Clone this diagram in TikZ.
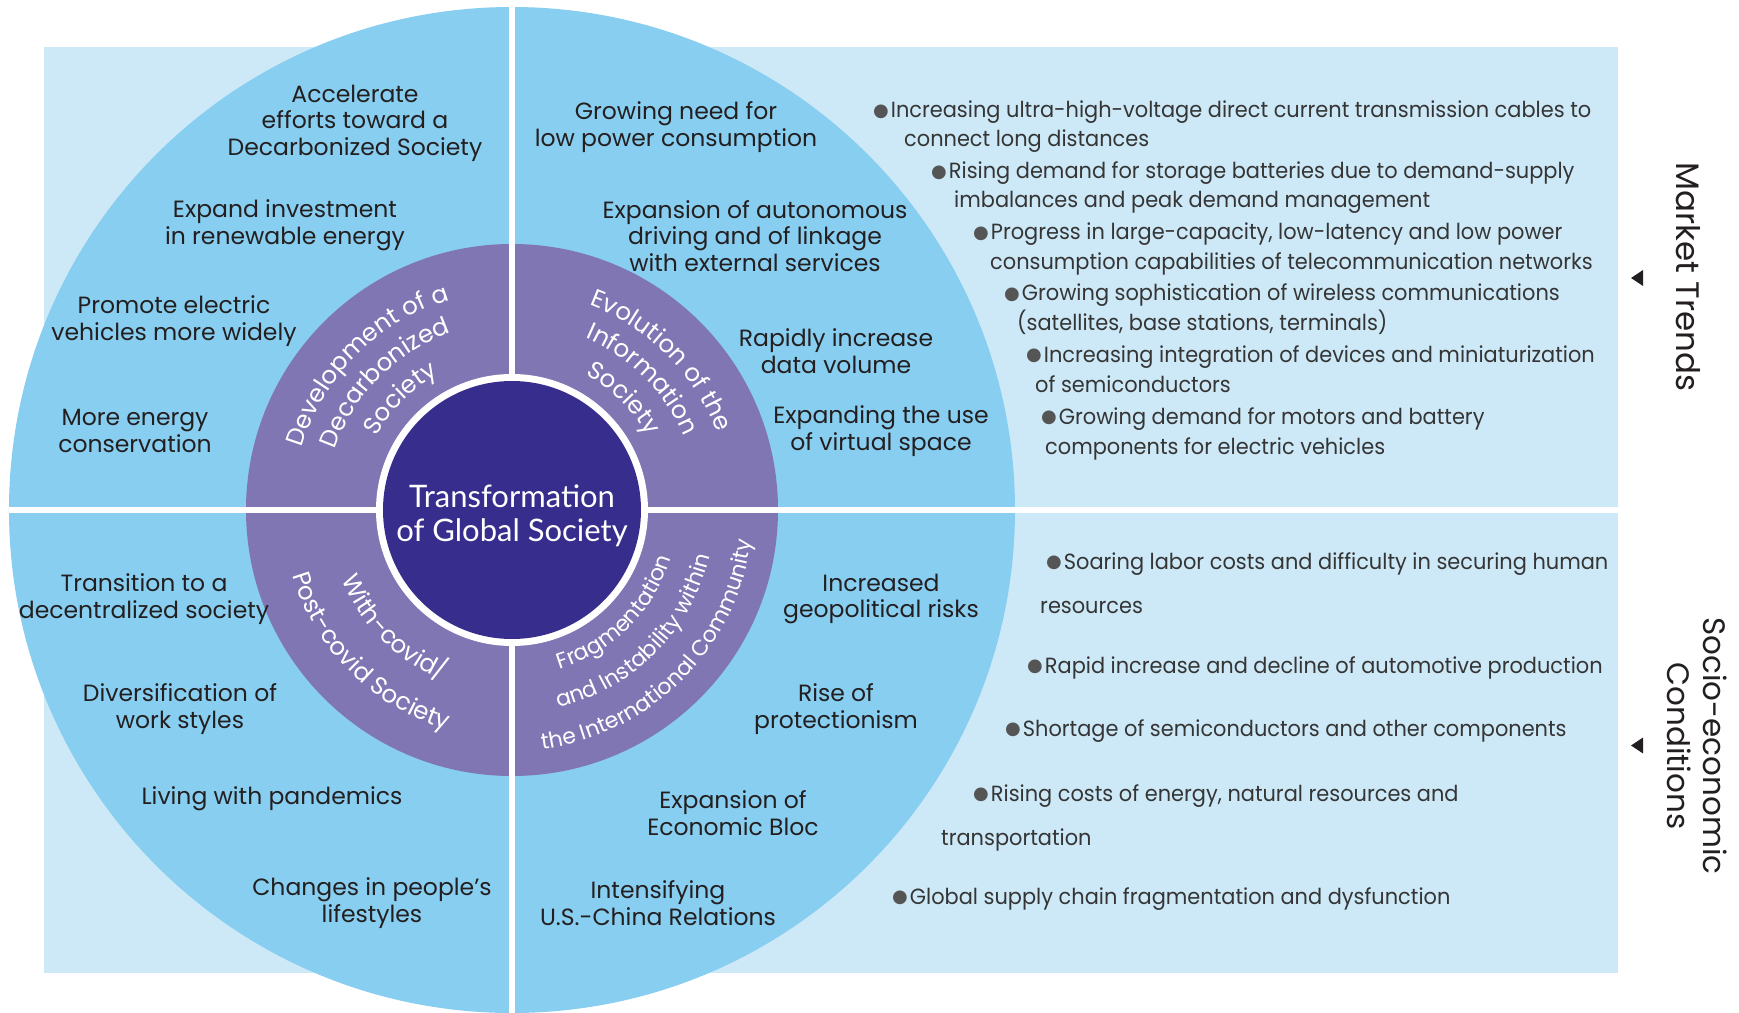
\documentclass[tikz,border=0pt]{standalone}
\usepackage{fontspec}
\setmainfont{Poppins}
\newfontfamily\listfont[FakeStretch=0.95]{Poppins}
\newfontfamily\corefont{Lato}
\newfontfamily\dotfont{DejaVu Sans}
\usetikzlibrary{decorations.text}

\definecolor{paleblue}{HTML}{CDE9F7}
\definecolor{sky}{HTML}{88CEF0}
\definecolor{ringpurple}{HTML}{8076B4}
\definecolor{corepurple}{HTML}{372D8C}
\definecolor{ink}{HTML}{231F20}
\definecolor{listgray}{HTML}{353535}
\definecolor{dotgray}{HTML}{555555}

\newcommand{\bdot}{{\dotfont\fontsize{18}{18}\selectfont\textcolor{dotgray}{\raisebox{0.06em}{●}}}\hspace{2pt}}

\tikzset{
  ringline/.style 2 args={decorate, decoration={text along path, text align=center, text color=white, text={|\fontsize{#1}{#1}\selectfont|#2}}},
  trend/.style={anchor=base west, align=left, text=listgray, font=\listfont\fontsize{22}{26}\selectfont},
  sidelabel/.style={rotate=-90, font=\fontsize{31}{36}\selectfont}
}

\begin{document}
\begin{tikzpicture}[x=1pt, y=1pt, every node/.style={align=center, inner sep=0pt, text=ink, font=\fontsize{23.5}{26.6}\selectfont}]
\useasboundingbox (-512,-502) rectangle (1227,510);
\clip (-512,-502) rectangle (1227,510);

\fill[paleblue] (-468,-463) rectangle (1106,463);
\fill[sky] (0,0) circle[radius=503pt];
\fill[ringpurple] (0,0) circle[radius=266pt];
\draw[white, line width=6pt] (0,-503) -- (0,503);
\draw[white, line width=6pt] (-503,0) -- (1106,0);
\fill[white] (0,0) circle[radius=136pt];
\fill[corepurple] (0,0) circle[radius=129pt];

\path[ringline={24.5}{Development of a}] (180:219pt) arc[start angle=180, end angle=90, radius=219pt];
\path[ringline={24.5}{Decarbonized}] (180:187pt) arc[start angle=180, end angle=90, radius=187pt];
\path[ringline={24.5}{Society}] (180:154pt) arc[start angle=180, end angle=90, radius=154pt];
\path[ringline={24.5}{Evolution of the}] (90:219pt) arc[start angle=90, end angle=0, radius=219pt];
\path[ringline={24.5}{Information}] (90:187pt) arc[start angle=90, end angle=0, radius=187pt];
\path[ringline={24.5}{Society}] (90:154pt) arc[start angle=90, end angle=0, radius=154pt];
\path[ringline={24.5}{With-covid/}] (180:184pt) arc[start angle=180, end angle=270, radius=184pt];
\path[ringline={24.5}{Post-covid Society}] (180:229pt) arc[start angle=180, end angle=270, radius=229pt];
\path[ringline={22}{Fragmentation}] (270:166pt) arc[start angle=270, end angle=360, radius=166pt];
\path[ringline={22}{and Instability within}] (270:203pt) arc[start angle=270, end angle=360, radius=203pt];
\path[ringline={22}{the International Community}] (270:241pt) arc[start angle=270, end angle=360, radius=241pt];

\node[text=white, font=\corefont\fontsize{31}{34}\selectfont] (core) at (0,-6) {Transformation\\of Global Society};

\node (accel) at (-157,387) {Accelerate\\efforts toward a\\Decarbonized Society};
\node (invest) at (-227,285) {Expand investment\\in renewable energy};
\node (evs) at (-338,189) {Promote electric\\vehicles more widely};
\node (saving) at (-377,79) {More energy\\conservation};
\node (lowpower) at (164,383) {Growing need for\\low power consumption};
\node (autonomy) at (243,274) {Expansion of autonomous\\driving and of linkage\\with external services};
\node (datavol) at (324,159) {Rapidly increase\\data volume};
\node (virtual) at (369,79) {Expanding the use\\of virtual space};
\node (decentral) at (-368,-89) {Transition to a\\decentralized society};
\node (workstyle) at (-332,-199) {Diversification of\\work styles};
\node (pandemic) at (-240,-289) {Living with pandemics};
\node (lifestyle) at (-140,-393) {Changes in people's\\lifestyles};
\node (geopol) at (369,-89) {Increased\\geopolitical risks};
\node (protect) at (324,-199) {Rise of\\protectionism};
\node (bloc) at (221,-303) {Expansion of\\Economic Bloc};
\node (uschina) at (146,-393) {Intensifying\\U.S.-China Relations};

\node[trend] (mt1) at (361,392) {\bdot Increasing ultra-high-voltage direct current transmission cables to};
\node[trend] (mt1b) at (392,363) {connect long distances};
\node[trend] (mt2) at (419,331) {\bdot Rising demand for storage batteries due to demand-supply};
\node[trend] (mt2b) at (442,302) {imbalances and peak demand management};
\node[trend] (mt3) at (461,270) {\bdot Progress in large-capacity, low-latency and low power};
\node[trend] (mt3b) at (478,240) {consumption capabilities of telecommunication networks};
\node[trend] (mt4) at (492,209) {\bdot Growing sophistication of wireless communications};
\node[trend] (mt4b) at (505,179) {(satellites, base stations, terminals)};
\node[trend] (mt5) at (514,148) {\bdot Increasing integration of devices and miniaturization};
\node[trend] (mt5b) at (523,118) {of semiconductors};
\node[trend] (mt6) at (529,86) {\bdot Growing demand for motors and battery};
\node[trend] (mt6b) at (533,56) {components for electric vehicles};

\node[trend] (sc1) at (534,-59) {\bdot Soaring labor costs and difficulty in securing human};
\node[trend] (sc1b) at (528,-103) {resources};
\node[trend] (sc2) at (515,-163) {\bdot Rapid increase and decline of automotive production};
\node[trend] (sc3) at (493,-226) {\bdot Shortage of semiconductors and other components};
\node[trend] (sc4) at (461,-291) {\bdot Rising costs of energy, natural resources and};
\node[trend] (sc4b) at (429,-335) {transportation};
\node[trend] (sc5) at (380,-394) {\bdot Global supply chain fragmentation and dysfunction};

\node[sidelabel, font=\fontsize{32.5}{36}\selectfont] (trends) at (1176,233) {Market Trends};
\node[sidelabel] (socio) at (1185,-236) {Socio-economic\\Conditions};
\fill[ink] (1119,232) -- (1131,240) -- (1131,224) -- cycle;
\fill[ink] (1119,-235.5) -- (1131,-227.5) -- (1131,-243.5) -- cycle;
\end{tikzpicture}
\end{document}
